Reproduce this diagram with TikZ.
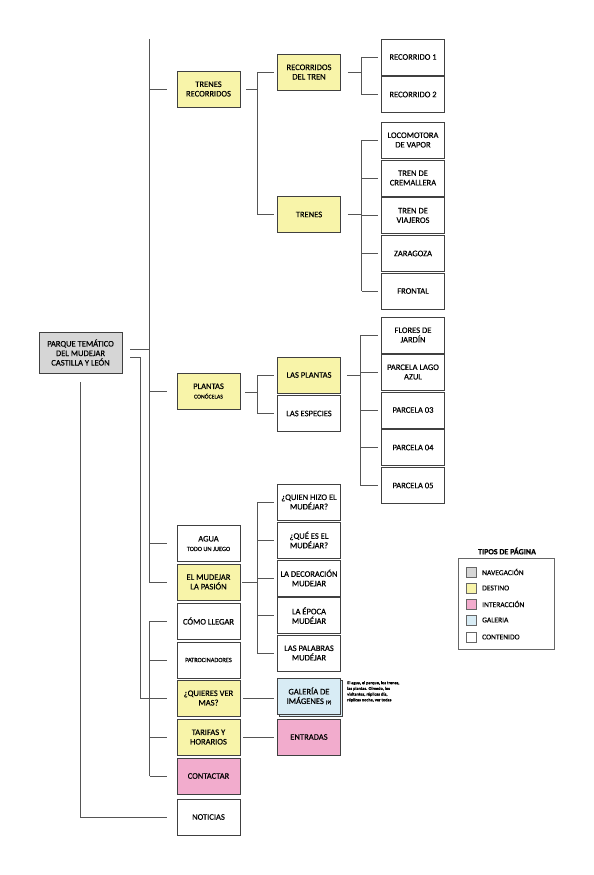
\documentclass[tikz,border=0pt]{standalone}
\usepackage{fontspec}
\setmainfont{Carlito}[FakeBold=0.3]
\definecolor{navgray}{HTML}{D6D6D6}
\definecolor{destyel}{HTML}{F8F4A9}
\definecolor{intpink}{HTML}{F2ACCD}
\definecolor{galblue}{HTML}{D8ECF5}
\definecolor{lncol}{HTML}{555555}
\tikzset{
  pg/.style={draw=black!75, line width=0.6pt, minimum width=63pt, minimum height=36pt, inner sep=1pt, align=center, font=\fontsize{8.5}{9.5}\selectfont},
  nav/.style={pg, fill=navgray},
  dest/.style={pg, fill=destyel},
  inter/.style={pg, fill=intpink},
  gal/.style={pg, fill=galblue},
  cont/.style={pg, fill=white},
  ln/.style={draw=lncol, line width=0.8pt},
  sw/.style={draw=black!60, line width=0.5pt, minimum size=10pt, inner sep=0pt},
  lgl/.style={anchor=west, inner sep=0pt, font=\fontsize{7.5}{8}\selectfont},
}
\begin{document}
\begin{tikzpicture}[x=1pt,y=-1pt]
\useasboundingbox[fill=white] (0,0) rectangle (594,875);
% root
\node[nav, minimum width=83pt, minimum height=41pt] (root) at (80.5,352.5) {PARQUE TEMÁTICO\\DEL MUDEJAR\\CASTILLA Y LEÓN};
% level 1
\node[dest] (tr) at (208.5,89) {TRENES\\RECORRIDOS};
\node[dest] (pl) at (208.5,391) {PLANTAS\\{\fontsize{5.8}{7}\selectfont CONÓCELAS}};
\node[cont] (ag) at (208.5,543.5) {AGUA\\{\fontsize{6.3}{7}\selectfont TODO UN JUEGO}};
\node[dest] (mu) at (208.5,582) {EL MUDEJAR\\LA PASIÓN};
\node[cont] (cl) at (208.5,621) {CÓMO LLEGAR};
\node[cont] (pa) at (208.5,660) {\fontsize{6.3}{7}\selectfont PATROCINADORES};
\node[dest] (qv) at (208.5,698) {¿QUIERES VER\\MAS?};
\node[dest] (ta) at (208.5,737) {TARIFAS Y\\HORARIOS};
\node[inter] (co) at (208.5,776) {CONTACTAR};
\node[cont] (no) at (208.5,817) {NOTICIAS};
% level 2
\node[dest] (rdt) at (309,72) {RECORRIDOS\\DEL TREN};
\node[dest] (tn) at (309,214.5) {TRENES};
\node[dest] (lp) at (309,375) {LAS PLANTAS};
\node[cont] (le) at (309,413.5) {LAS ESPECIES};
\node[cont] (qh) at (309,502) {¿QUIEN HIZO EL\\MUDÉJAR?};
\node[cont] (qe) at (309,540) {¿QUÉ ES EL\\MUDÉJAR?};
\node[cont] (ld) at (309,578) {LA DECORACIÓN\\MUDEJAR};
\node[cont] (lep) at (309,615.5) {LA ÉPOCA\\MUDÉJAR};
\node[cont] (lw) at (309,653) {LAS PALABRAS\\MUDÉJAR};
\node[gal] (gs) at (311,698) {};
\node[gal] (ga) at (309,696) {GALERÍA DE\\IMÁGENES {\fontsize{5}{6}\selectfont (9)}};
\node[inter] (en) at (309,737) {ENTRADAS};
% level 3
\node[cont] (r1) at (413,57) {RECORRIDO 1};
\node[cont] (r2) at (413,94.5) {RECORRIDO 2};
\node[cont] (lo) at (413,140) {LOCOMOTORA\\DE VAPOR};
\node[cont] (cr) at (413,178) {TREN DE\\CREMALLERA};
\node[cont] (vi) at (413,215.5) {TREN DE\\VIAJEROS};
\node[cont] (za) at (413,253.5) {ZARAGOZA};
\node[cont] (fr) at (413,291) {FRONTAL};
\node[cont] (fl) at (413,335) {FLORES DE\\JARDÍN};
\node[cont] (la) at (413,372) {PARCELA LAGO\\AZUL};
\node[cont] (p3) at (413,410) {PARCELA 03};
\node[cont] (p4) at (413,447.5) {PARCELA 04};
\node[cont] (p5) at (413,485.5) {PARCELA 05};
% note
\node[anchor=north west, align=left, inner sep=0pt, font=\fontsize{4.3}{5.7}\selectfont\bfseries] (nt) at (347,681) {El agua, el parque, los trenes,\\las plantas. Olmedo, los\\visitantes, réplicas día,\\réplicas noche, ver todas};
% root connectors
\coordinate (v1) at (149,39);
\coordinate (v2) at (149.5,0);
\draw[ln] ([xshift=8pt,yshift=3.5pt]root.east) -- ++(19,0);
\draw[ln] ([xshift=8pt,yshift=-4.5pt]root.east) -- ++(10,0) coordinate (rb) -- (rb |- qv.west) -- ([xshift=-10pt]qv.west);
\draw[ln] ([yshift=-9pt]root.south) -- (root.south |- no.west) -- ([xshift=-10pt]no.west);
% main vertical
\draw[ln] (v1) -- (v1 |- mu.west) -- ([xshift=-10pt]mu.west);
\foreach \n in {tr,pl,ag} \draw[ln] (v1 |- \n.west) -- ([xshift=-10pt]\n.west);
% lower bracket
\draw[ln] (v2 |- cl.west) -- (v2 |- co.west);
\foreach \n in {cl,pa,ta,co} \draw[ln] (v2 |- \n.west) -- ([xshift=-10pt]\n.west);
% level1 -> level2
\draw[ln] ([xshift=6pt]tr.east) -- ++(11,0) coordinate (b1);
\draw[ln] (b1 |- rdt.west) -- (b1 |- tn.west);
\foreach \n in {rdt,tn} \draw[ln] (b1 |- \n.west) -- ([xshift=-3pt]\n.west);
\draw[ln] ([xshift=5pt,yshift=-1pt]pl.east) -- ++(12,0) coordinate (b2);
\draw[ln] (b2 |- lp.west) -- (b2 |- le.west);
\foreach \n in {lp,le} \draw[ln] (b2 |- \n.west) -- ([xshift=-3pt]\n.west);
\draw[ln] ([xshift=2pt]mu.east) -- ++(15,0) coordinate (b3);
\draw[ln] (b3 |- qh.west) -- (b3 |- lw.west);
\foreach \n in {qh,qe,ld,lep,lw} \draw[ln] (b3 |- \n.west) -- ([xshift=-3pt]\n.west);
\draw[ln] ([xshift=3pt]qv.east) -- ([xshift=-3pt]ga.west |- qv.east);
\draw[ln] ([xshift=3pt]ta.east) -- ([xshift=-3pt]en.west);
% level2 -> level3
\draw[ln] ([xshift=7pt]rdt.east) -- ++(14,0) coordinate (c1);
\draw[ln] (c1 |- r1.west) -- (c1 |- r2.west);
\foreach \n in {r1,r2} \draw[ln] (c1 |- \n.west) -- ([xshift=-3.5pt]\n.west);
\draw[ln] ([xshift=7pt]tn.east) -- ++(14,0) coordinate (c2);
\draw[ln] (c2 |- lo.west) -- (c2 |- fr.west);
\foreach \n in {lo,cr,vi,za,fr} \draw[ln] (c2 |- \n.west) -- ([xshift=-3.5pt]\n.west);
\draw[ln] ([xshift=6pt]lp.east) -- ++(14,0) coordinate (c3);
\draw[ln] (c3 |- fl.west) -- (c3 |- p5.west);
\foreach \n in {fl,la,p3,p4,p5} \draw[ln] (c3 |- \n.west) -- ([xshift=-3.5pt]\n.west);
% legend
\node[font=\fontsize{8}{8}\selectfont\bfseries, inner sep=0pt] (lt) at (507,551) {TIPOS DE PÁGINA};
\node[draw=black!60, line width=0.5pt, minimum width=96pt, minimum height=91pt, inner sep=0pt] (lb) at (506,603.5) {};
\node[sw, fill=navgray] (s1) at (471,572) {};
\node[sw, fill=destyel] (s2) at (471,588) {};
\node[sw, fill=intpink] (s3) at (471,604) {};
\node[sw, fill=galblue] (s4) at (471,620) {};
\node[sw, fill=white] (s5) at (471,637) {};
\node[lgl] (t1) at (482,572) {NAVEGACIÓN};
\node[lgl] (t2) at (482,588) {DESTINO};
\node[lgl] (t3) at (482,604) {INTERACCIÓN};
\node[lgl] (t4) at (482,620) {GALERIA};
\node[lgl] (t5) at (482,637) {CONTENIDO};
\end{tikzpicture}
\end{document}
